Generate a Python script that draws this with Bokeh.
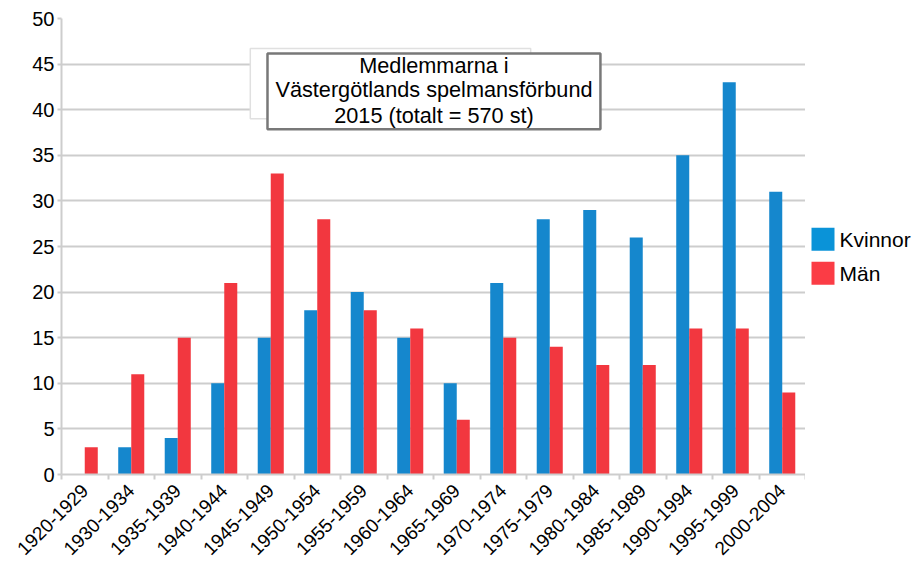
import numpy as np
from bokeh.plotting import figure
from bokeh.layouts import row
from bokeh.core.properties import value
from bokeh.models import (FixedTicker, Range1d, BoxAnnotation, Label,
                          ColumnDataSource)
from bokeh.embed import file_html
from bokeh.resources import INLINE

periods = ["1920-1929", "1930-1934", "1935-1939", "1940-1944", "1945-1949",
           "1950-1954", "1955-1959", "1960-1964", "1965-1969", "1970-1974",
           "1975-1979", "1980-1984", "1985-1989", "1990-1994", "1995-1999",
           "2000-2004"]
kvinnor = [0, 3, 4, 10, 15, 18, 20, 15, 10, 21, 28, 29, 26, 35, 43, 31]
man = [3, 11, 15, 21, 33, 28, 18, 16, 6, 15, 14, 12, 12, 16, 16, 9]
y_ticks = list(range(0, 51, 5))
series_names = ["Kvinnor", "Män"]
title_lines = ["Medlemmarna i", "Västergötlands spelmansförbund",
               "2015 (totalt = 570 st)"]

FONT = "Liberation Sans"
GRID = "#cdcdcd"
BLUE = "#1587cd"
RED = "#f2373f"
LEG_BLUE = "#0a93d8"
LEG_RED = "#fb3c45"

n = len(periods)
idx = np.arange(n)
src = ColumnDataSource(dict(xk=idx + 0.5 - 0.14, xm=idx + 0.5 + 0.14,
                            kvinnor=kvinnor, man=man))

p = figure(width=805, height=563, output_backend="svg", toolbar_location=None,
           x_range=Range1d(0, n), y_range=Range1d(0, 50),
           min_border_left=61, min_border_right=0, min_border_top=18,
           min_border_bottom=88)
p.outline_line_color = None
p.background_fill_color = "white"
p.border_fill_color = "white"

p.vbar(x="xk", top="kvinnor", width=0.28, source=src, fill_color=BLUE,
       line_color=None)
p.vbar(x="xm", top="man", width=0.28, source=src, fill_color=RED,
       line_color=None)

# x axis
p.xaxis.ticker = FixedTicker(ticks=list(idx + 0.5), minor_ticks=list(range(n + 1)))
p.xaxis.major_label_overrides = {float(i + 0.5): periods[i] for i in range(n)}
p.xaxis.major_label_orientation = np.pi / 4
p.xaxis.major_tick_out = 0
p.xaxis.major_tick_in = 0
p.xaxis.minor_tick_out = 5
p.xaxis.minor_tick_in = 0
p.xaxis.minor_tick_line_color = GRID
p.xaxis.minor_tick_line_width = 2
p.xaxis.axis_line_color = GRID
p.xaxis.axis_line_width = 2
p.xaxis.major_label_text_font = FONT
p.xaxis.major_label_text_font_size = "19px"
p.xaxis.major_label_text_color = "black"
p.xaxis.major_label_standoff = 8
p.xgrid.visible = False

# y axis
p.yaxis.ticker = FixedTicker(ticks=y_ticks)
p.yaxis.major_tick_out = 4
p.yaxis.major_tick_in = 0
p.yaxis.minor_tick_line_color = None
p.yaxis.major_tick_line_color = GRID
p.yaxis.major_tick_line_width = 2
p.yaxis.axis_line_color = GRID
p.yaxis.axis_line_width = 2
p.yaxis.major_label_text_font = FONT
p.yaxis.major_label_text_font_size = "20px"
p.yaxis.major_label_text_color = "black"
p.yaxis.major_label_standoff = 3
p.ygrid.grid_line_color = GRID
p.ygrid.grid_line_width = 2

# title box with faint shadow box
p.add_layout(BoxAnnotation(left=4.06, right=10.09, top=46.7, bottom=39.0,
                           fill_color="white", fill_alpha=1,
                           line_color="#e0e0e0", line_alpha=1, line_width=1.5))
p.add_layout(BoxAnnotation(left=4.43, right=11.59, top=46.17, bottom=37.86,
                           fill_color="white", fill_alpha=1,
                           line_color="#787878", line_alpha=1, line_width=2.5))
for txt, yy in zip(title_lines, [44.8, 42.2, 39.4]):
    p.add_layout(Label(x=8.01, y=yy, text=txt, text_align="center",
                       text_baseline="middle", text_font=FONT,
                       text_font_size="21.7px", text_color="black"))

# legend panel (separate narrow figure to the right; its frame is aligned
# with the main frame, so map its y range to page pixels 18.5..475)
q = figure(width=107, height=563, output_backend="svg", toolbar_location=None,
           x_range=Range1d(0, 107), y_range=Range1d(475, 18.5),
           min_border=0, x_axis_type=None, y_axis_type=None)
q.outline_line_color = None
q.grid.visible = False
q.border_fill_color = "white"
q.background_fill_color = "white"
leg = ColumnDataSource(dict(x=[17.5, 17.5], y=[239.5, 273.5],
                            tx=[34, 34], name=series_names,
                            color=[LEG_BLUE, LEG_RED]))
q.rect(x="x", y="y", width=23, height=23, source=leg, fill_color="color",
       line_color=None)
q.text(x="tx", y="y", text="name", source=leg, text_font=value(FONT),
       text_font_size="21px", text_color="black", text_baseline="middle",
       text_align="left")

layout = row(p, q, spacing=0)
open("out.html", "w").write(file_html(layout, INLINE))
